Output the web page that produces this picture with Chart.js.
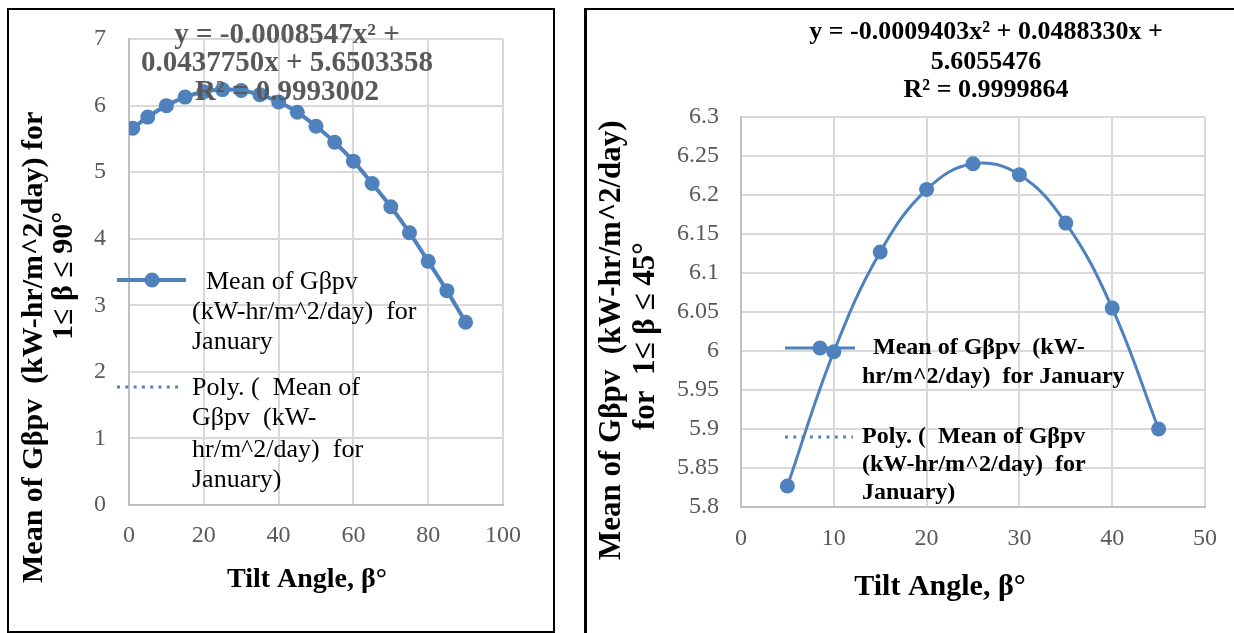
<!DOCTYPE html>
<html>
<head>
<meta charset="utf-8">
<script src="https://cdn.jsdelivr.net/npm/chart.js@4.4.1/dist/chart.umd.min.js"></script>
<style>
  html, body { margin: 0; padding: 0; background: #fff; }
  body { width: 1234px; height: 633px; position: relative; overflow: hidden; }
  .frame { position: absolute; box-sizing: border-box; }
  #frameL { left: 7px; top: 8px; width: 548px; height: 625px; border: 2px solid #000; }
  #frameR { left: 584px; top: 8px; width: 700px; height: 700px; border-left: 3px solid #000; border-top: 2px solid #000; }
  .wrap { position: absolute; top: 0; }
  #wrapL { left: 0; width: 560px; height: 633px; }
  #wrapR { left: 590px; width: 644px; height: 633px; }
</style>
</head>
<body>
<div class="frame" id="frameL"></div>
<div class="frame" id="frameR"></div>
<div class="wrap" id="wrapL"><canvas id="chartL" width="560" height="633"></canvas></div>
<div class="wrap" id="wrapR"><canvas id="chartR" width="644" height="633"></canvas></div>
<script>
// data: tilt angle vs mean G beta pv (January)
const tiltFull = [1, 5, 10, 15, 20, 25, 30, 35, 40, 45, 50, 55, 60, 65, 70, 75, 80, 85, 90];
const gMeanFull = [5.66, 5.827, 5.999, 6.127, 6.207, 6.24, 6.226, 6.164, 6.055, 5.9, 5.69, 5.45, 5.165, 4.83, 4.48, 4.09, 3.66, 3.22, 2.745];
const tiltHalf = [5, 10, 15, 20, 25, 30, 35, 40, 45];
const gMeanHalf = [5.827, 5.999, 6.127, 6.207, 6.24, 6.226, 6.164, 6.055, 5.9];

const xTicksFull = [0, 20, 40, 60, 80, 100];
const yTicksFull = [0, 1, 2, 3, 4, 5, 6, 7];
const xTicksHalf = [0, 10, 20, 30, 40, 50];
const yTicksHalf = [5.8, 5.85, 5.9, 5.95, 6, 6.05, 6.1, 6.15, 6.2, 6.25, 6.3];

const eqFull = ['y = -0.0008547x² +', '0.0437750x + 5.6503358', 'R² = 0.9993002'];
const eqHalf = ['y = -0.0009403x² + 0.0488330x +', '5.6055476', 'R² = 0.9999864'];

const BLUE = '#4f81bd';
const GRID = '#d9d9d9';
const AXIS = '#bfbfbf';
const TICK = '#595959';
const SERIF = '"Liberation Serif", "Times New Roman", serif';

function txt(ctx, s, x, y, font, opts) {
    opts = opts || {};
    ctx.save();
    ctx.font = font;
    ctx.fillStyle = opts.color || '#000';
    ctx.textAlign = opts.align || 'left';
    ctx.textBaseline = opts.baseline || 'middle';
    ctx.translate(x, y);
    if (opts.rot) ctx.rotate(opts.rot);
    ctx.fillText(s, 0, 0);
    ctx.restore();
}

function legendSolid(ctx, x1, x2, y, w, mx) {
    ctx.save();
    ctx.strokeStyle = BLUE;
    ctx.fillStyle = BLUE;
    ctx.lineWidth = w;
    ctx.beginPath();
    ctx.moveTo(x1, y);
    ctx.lineTo(x2, y);
    ctx.stroke();
    ctx.beginPath();
    ctx.arc(mx, y, 7.5, 0, Math.PI * 2);
    ctx.fill();
    ctx.restore();
}

function legendDotted(ctx, x1, x2, y) {
    ctx.save();
    ctx.strokeStyle = BLUE;
    ctx.lineWidth = 3;
    ctx.setLineDash([3, 5.3]);
    ctx.beginPath();
    ctx.moveTo(x1, y);
    ctx.lineTo(x2, y);
    ctx.stroke();
    ctx.restore();
}

// annotations drawn on top (equation, legend, axis titles)
const annotPlugin = {
    id: 'annot',
    afterDraw(chart, args, opts) {
        if (opts.draw) opts.draw(chart.ctx);
    }
};

function baseScales(xmin, xmax, xt, ymin, ymax, yt, yW, xH, xPad, yPad) {
    const tickFont = { family: SERIF, size: 24 };
    return {
        x: {
            type: 'linear', min: xmin, max: xmax,
            afterBuildTicks: s => { s.ticks = xt.map(v => ({ value: v })); },
            afterFit: s => { s.height = xH; },
            grid: { color: GRID, lineWidth: 2, drawTicks: false },
            border: { color: AXIS, width: 2 },
            ticks: { padding: xPad, font: tickFont, color: TICK, maxRotation: 0 }
        },
        y: {
            type: 'linear', min: ymin, max: ymax,
            afterBuildTicks: s => { s.ticks = yt.map(v => ({ value: v })); },
            afterFit: s => { s.width = yW; },
            grid: { color: GRID, lineWidth: 2, drawTicks: false },
            border: { color: AXIS, width: 2 },
            ticks: {
                padding: yPad, font: tickFont, color: TICK,
                callback: v => String(+v.toFixed(2))
            }
        }
    };
}

const seriesLabel = 'Mean of Gβpv  (kW-hr/m^2/day)  for January';

// left chart: 1 <= beta <= 90
new Chart(document.getElementById('chartL'), {
    type: 'scatter',
    data: {
        datasets: [{
            label: seriesLabel,
            data: tiltFull.map((x, i) => ({ x: x, y: gMeanFull[i] })),
            showLine: true,
            borderColor: BLUE,
            backgroundColor: BLUE,
            borderWidth: 4,
            tension: 0.3,
            pointRadius: 7.5,
            pointHoverRadius: 7.5,
            pointBorderWidth: 0,
            pointBackgroundColor: BLUE
        }]
    },
    options: {
        responsive: false,
        animation: false,
        devicePixelRatio: 1,
        layout: { padding: { left: 0, top: 39, right: 57, bottom: 0 } },
        scales: baseScales(0, 100, xTicksFull, 0, 7, yTicksFull, 129, 128, 16, 23),
        plugins: {
            legend: { display: false },
            tooltip: { enabled: false },
            annot: {
                draw(ctx) {
                    const eqFont = 'bold 29px ' + SERIF;
                    txt(ctx, eqFull[0], 287, 36, eqFont, { color: '#595959', align: 'center' });
                    txt(ctx, eqFull[1], 287, 64, eqFont, { color: '#595959', align: 'center' });
                    txt(ctx, eqFull[2], 287, 93, eqFont, { color: '#595959', align: 'center' });

                    const lf = '26px ' + SERIF;
                    legendSolid(ctx, 117, 186, 280, 4, 152);
                    txt(ctx, 'Mean of Gβpv', 206, 282, lf);
                    txt(ctx, '(kW-hr/m^2/day)  for', 192, 312, lf);
                    txt(ctx, 'January', 192, 342, lf);
                    legendDotted(ctx, 117, 183, 387);
                    txt(ctx, 'Poly. (  Mean of', 192, 388, lf);
                    txt(ctx, 'Gβpv  (kW-', 192, 418, lf);
                    txt(ctx, 'hr/m^2/day)  for', 192, 450, lf);
                    txt(ctx, 'January)', 192, 480, lf);

                    const tf = 'bold 30px ' + SERIF;
                    txt(ctx, 'Mean of Gβpv  (kW-hr/m^2/day) for', 42, 583, tf, { rot: -Math.PI / 2, baseline: 'alphabetic' });
                    txt(ctx, '1≤ β ≤ 90°', 72, 340, tf, { rot: -Math.PI / 2, baseline: 'alphabetic' });
                    txt(ctx, 'Tilt Angle, β°', 307, 580, 'bold 28px ' + SERIF, { align: 'center' });
                }
            }
        }
    },
    plugins: [annotPlugin]
});

// right chart: 1 <= beta <= 45 (canvas starts at page x = 590)
new Chart(document.getElementById('chartR'), {
    type: 'scatter',
    data: {
        datasets: [{
            label: seriesLabel,
            data: tiltHalf.map((x, i) => ({ x: x, y: gMeanHalf[i] })),
            showLine: true,
            borderColor: BLUE,
            backgroundColor: BLUE,
            borderWidth: 3,
            tension: 0.4,
            pointRadius: 7.5,
            pointHoverRadius: 7.5,
            pointBorderWidth: 0,
            pointBackgroundColor: BLUE
        }]
    },
    options: {
        responsive: false,
        animation: false,
        devicePixelRatio: 1,
        layout: { padding: { left: 0, top: 117, right: 21, bottom: 0 } },
        scales: baseScales(0, 50, xTicksHalf, 5.8, 6.3, yTicksHalf, 151, 126, 17, 22),
        plugins: {
            legend: { display: false },
            tooltip: { enabled: false },
            annot: {
                draw(ctx) {
                    const eqFont = 'bold 26px ' + SERIF;
                    txt(ctx, eqHalf[0], 396, 32, eqFont, { align: 'center' });
                    txt(ctx, eqHalf[1], 396, 62, eqFont, { align: 'center' });
                    txt(ctx, eqHalf[2], 396, 90, eqFont, { align: 'center' });

                    const lf = 'bold 24px ' + SERIF;
                    legendSolid(ctx, 195, 265, 348, 3, 230);
                    txt(ctx, 'Mean of Gβpv  (kW-', 283, 348, lf);
                    txt(ctx, 'hr/m^2/day)  for January', 272, 377, lf);
                    legendDotted(ctx, 195, 263, 437);
                    txt(ctx, 'Poly. (  Mean of Gβpv', 272, 437, lf);
                    txt(ctx, '(kW-hr/m^2/day)  for', 272, 465, lf);
                    txt(ctx, 'January)', 272, 493, lf);

                    const tf = 'bold 31px ' + SERIF;
                    txt(ctx, 'Mean of Gβpv  (kW-hr/m^2/day)', 30, 560, tf, { rot: -Math.PI / 2, baseline: 'alphabetic' });
                    txt(ctx, 'for  1≤ β ≤ 45°', 64, 430, tf, { rot: -Math.PI / 2, baseline: 'alphabetic' });
                    txt(ctx, 'Tilt Angle, β°', 350, 587, 'bold 30px ' + SERIF, { align: 'center' });
                }
            }
        }
    },
    plugins: [annotPlugin]
});
</script>
</body>
</html>
